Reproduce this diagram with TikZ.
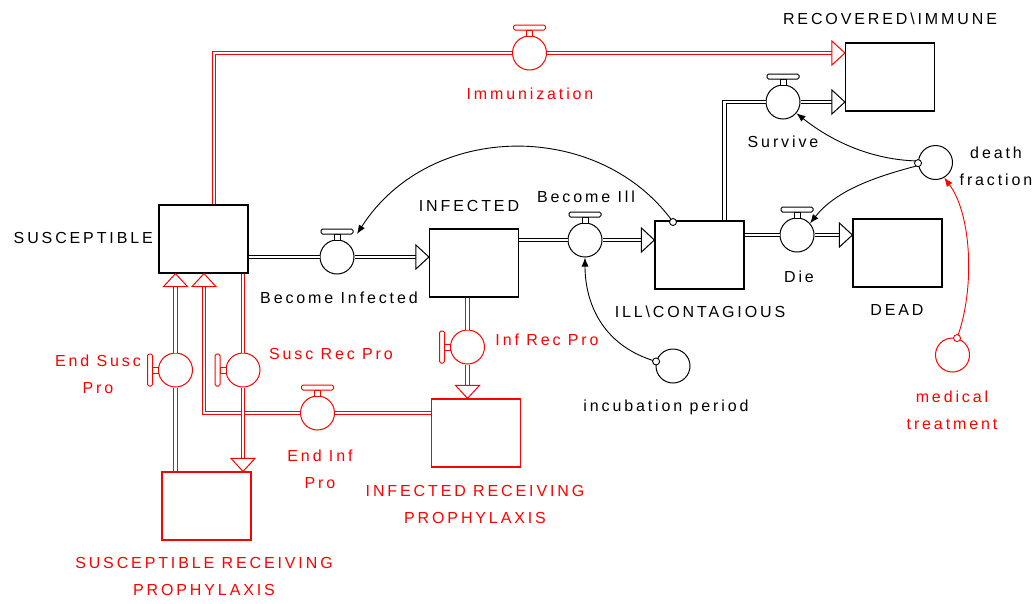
\documentclass[tikz,border=0pt]{standalone}
\usepackage{fontspec}
\setmainfont{Liberation Sans}[LetterSpace=18]
\usetikzlibrary{arrows.meta}
\tikzset{
  stock/.style={draw, line width=1.2pt, minimum width=89pt, minimum height=68pt, inner sep=0pt, fill=white},
  valvec/.style={draw, circle, line width=1pt, minimum size=34pt, inner sep=0pt, fill=white},
  auxc/.style={draw, circle, line width=1pt, minimum size=34pt, inner sep=0pt, fill=white},
  pipe/.style={line width=1.1pt, double=white, double distance=2.5pt},
  lbl/.style={font=\fontsize{16}{27}\selectfont, inner sep=0pt, align=center},
  link/.style={line width=0.9pt, -{Latex[length=9pt,width=7pt]}},
  origin/.style={line width=0.9pt},
  ftip/.pic={\draw[line width=1pt, fill=white, line join=miter] (0,0) -- (-13,-12) -- (-13,12) -- cycle;},
  vbar/.pic={\draw[line width=1pt, fill=white] (-3,-23) rectangle (3,-17);
             \draw[line width=1pt, fill=white, rounded corners=1.5pt] (-16,-28) rectangle (16,-23);}
}
\begin{document}
\begin{tikzpicture}[x=1pt, y=-1pt]
\useasboundingbox (0,0) rectangle (1034,603);

% stocks
\node[stock] (S) at (203.5,239) {};
\node[stock] (I) at (474,263) {};
\node[stock] (ILL) at (699.5,255) {};
\node[stock] (R) at (890,77) {};
\node[stock] (D) at (897.5,253) {};
\node[red, stock] (SRP) at (206.5,506) {};
\node[red, stock] (IRP) at (476,433) {};

% valves
\node[valvec] (bi) at (337,257) {};
\node[valvec] (bill) at (585,240) {};
\node[valvec] (surv) at (783,102) {};
\node[valvec] (die) at (797,235) {};
\node[red, valvec] (imm) at (529.5,53) {};
\node[red, valvec] (esp) at (175.5,370) {};
\node[red, valvec] (srp) at (243,370) {};
\node[red, valvec] (eip) at (317.5,413) {};
\node[red, valvec] (irp) at (467.5,347) {};

% auxiliaries
\node[auxc] (inc) at (673,366) {};
\node[auxc] (df) at (935.5,162.5) {};
\node[red, auxc] (med) at (952.5,355) {};

% corner coordinates
\coordinate (imc) at (214,53);
\coordinate (sc) at (724.5,102);
\coordinate (eic) at (204,413);

% black pipes
\draw[pipe] (S.east |- bi) -- (bi.west);
\draw[pipe, shorten >=10pt] (bi.east) -- (I.west |- bi);
\pic at (I.west |- bi) {ftip};
\draw[pipe] (I.east |- bill) -- (bill.west);
\draw[pipe, shorten >=10pt] (bill.east) -- (ILL.west |- bill);
\pic at (ILL.west |- bill) {ftip};
\draw[pipe] (ILL.north -| sc) -- (sc) -- (surv.west);
\draw[pipe, shorten >=10pt] (surv.east) -- (R.west |- surv);
\pic at (R.west |- surv) {ftip};
\draw[pipe] (ILL.east |- die) -- (die.west);
\draw[pipe, shorten >=10pt] (die.east) -- (D.west |- die);
\pic at (D.west |- die) {ftip};

% red pipes
\draw[pipe, red] (S.north -| imc) -- (imc) -- (imm.west);
\draw[pipe, red, shorten >=10pt] (imm.east) -- (R.west |- imm);
\pic[red] at (R.west |- imm) {ftip};
\draw[pipe, red] (IRP.west |- eip) -- (eip.east);
\draw[pipe, red, shorten >=10pt] (eip.west) -- (eic) -- (S.south -| eic);
\pic[red, rotate=90] at (S.south -| eic) {ftip};
\draw[pipe, red] (SRP.north -| esp) -- (esp.south);
\draw[pipe, red, shorten >=10pt] (esp.north) -- (S.south -| esp);
\pic[red, rotate=90] at (S.south -| esp) {ftip};
\draw[pipe, red] (S.south -| srp) -- (srp.north);
\draw[pipe, red, shorten >=10pt] (srp.south) -- (SRP.north -| srp);
\pic[red, rotate=-90] at (SRP.north -| srp) {ftip};
\draw[pipe, red] (I.south -| irp) -- (irp.north);
\draw[pipe, red, shorten >=10pt] (irp.south) -- (IRP.north -| irp);
\pic[red, rotate=-90] at (IRP.north -| irp) {ftip};

% valve bars
\pic at (bi) {vbar};
\pic at (bill) {vbar};
\pic at (surv) {vbar};
\pic at (die) {vbar};
\pic[red] at (imm) {vbar};
\pic[red] at (eip) {vbar};
\pic[red, rotate=90] at (esp) {vbar};
\pic[red, rotate=90] at (srp) {vbar};
\pic[red, rotate=90] at (irp) {vbar};

% information links
\coordinate (l1) at (673,222);
\coordinate (bit) at (357,234);
\draw[link] (l1) .. controls (600,120) and (430,120) .. (bit);
\draw[origin, fill=white] (l1) circle (3.5);
\draw[link] (inc.165) .. controls (600,345) and (585,300) .. (bill.south);
\draw[origin, fill=white] (inc.165) circle (3.5);
\draw[link] (df.175) .. controls (870,160) and (830,140) .. (surv.-40);
\draw[link] (df.190) .. controls (870,178) and (835,192) .. (die.42);
\draw[origin, fill=white] (df.182) circle (3.5);
\draw[link, red] (med.75) .. controls (975,290) and (972,215) .. (df.-60);
\draw[red, origin, fill=white] (med.75) circle (3.5);

% labels
\node[lbl, anchor=east] (tS) at (153,238) {SUSCEPTIBLE};
\node[lbl] (tI) at (469,206) {INFECTED};
\node[lbl] (tILL) at (700,312) {ILL\textbackslash CONTAGIOUS};
\node[lbl] (tR) at (890,19) {RECOVERED\textbackslash IMMUNE};
\node[lbl] (tD) at (897,310) {DEAD};
\node[lbl] (tbi) at (339,298) {Become Infected};
\node[lbl] (tbill) at (586,197) {Become Ill};
\node[lbl] (tsurv) at (783,142) {Survive};
\node[lbl] (tdie) at (799,277) {Die};
\node[lbl] (tinc) at (666,407) {incubation period};
\node[lbl] (tdf) at (996,166) {death\\fraction};
\node[lbl, red] (tmed) at (952,410) {medical\\treatment};
\node[lbl, red] (timm) at (530,94) {Immunization};
\node[lbl, red] (tesp) at (98,374) {End Susc\\Pro};
\node[lbl, red] (tsrp) at (331,354) {Susc Rec Pro};
\node[lbl, red] (teip) at (320,469) {End Inf\\Pro};
\node[lbl, red] (tirp) at (547,340) {Inf Rec Pro};
\node[lbl, red] (tSRP) at (204,576) {SUSCEPTIBLE RECEIVING\\PROPHYLAXIS};
\node[lbl, red] (tIRP) at (475,504) {INFECTED RECEIVING\\PROPHYLAXIS};
\end{tikzpicture}
\end{document}
